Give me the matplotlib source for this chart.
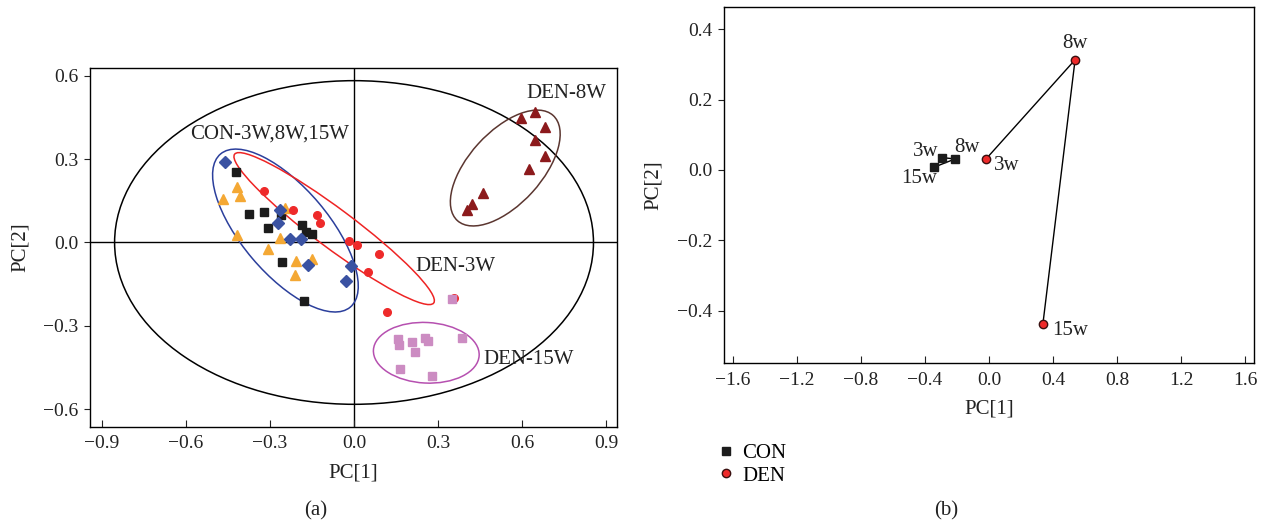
import matplotlib
matplotlib.use("Agg")
import matplotlib.pyplot as plt
from matplotlib.patches import Ellipse
from matplotlib.lines import Line2D
from matplotlib.ticker import FuncFormatter

plt.rcParams['font.family'] = ['Liberation Serif', 'DejaVu Serif']
plt.rcParams['font.size'] = 14
plt.rcParams['axes.linewidth'] = 1.0

# panel (a) scores
con3_x = [-0.460, -0.264, -0.270, -0.227, -0.190, -0.163, -0.011, -0.030]
con3_y = [0.291, 0.116, 0.071, 0.011, 0.014, -0.081, -0.086, -0.139]
con8_x = [-0.420, -0.374, -0.320, -0.306, -0.262, -0.185, -0.171, -0.151, -0.256, -0.178]
con8_y = [0.253, 0.104, 0.110, 0.053, 0.098, 0.064, 0.037, 0.032, -0.072, -0.209]
con15_x = [-0.417, -0.468, -0.408, -0.419, -0.246, -0.263, -0.306, -0.207, -0.149, -0.211]
con15_y = [0.200, 0.155, 0.167, 0.026, 0.124, 0.017, -0.022, -0.065, -0.061, -0.117]
den3_x = [-0.321, -0.219, -0.133, -0.121, -0.018, 0.010, 0.090, 0.051, 0.117, 0.358]
den3_y = [0.184, 0.118, 0.098, 0.071, 0.007, -0.010, -0.043, -0.105, -0.252, -0.201]
den8_x = [0.595, 0.646, 0.682, 0.646, 0.682, 0.626, 0.462, 0.423, 0.402]
den8_y = [0.447, 0.468, 0.415, 0.369, 0.313, 0.265, 0.179, 0.140, 0.116]
den15_x = [0.349, 0.158, 0.162, 0.208, 0.255, 0.265, 0.387, 0.219, 0.165, 0.280]
den15_y = [-0.204, -0.348, -0.368, -0.360, -0.344, -0.356, -0.344, -0.394, -0.455, -0.481]

# confidence ellipses: (cx, cy, width, height, angle)
ell_all = (0.0, 0.0, 1.71, 1.165, 0)
ell_con = (-0.245, 0.043, 0.72, 0.31, -50)
ell_den3 = (-0.071, 0.050, 0.89, 0.14, -37)
ell_den8 = (0.540, 0.268, 0.51, 0.26, 48)
ell_den15 = (0.258, -0.397, 0.378, 0.218, -3)

# panel (b) group trajectories
weeks = ['3w', '8w', '15w']
con_x = [-0.295, -0.212, -0.345]
con_y = [0.035, 0.031, 0.007]
den_x = [-0.020, 0.538, 0.337]
den_y = [0.030, 0.313, -0.438]

TXT = '#222222'
fmt = FuncFormatter(lambda v, p: ('%.1f' % v).replace('-', '\u2212'))

fig = plt.figure(figsize=(12.63, 5.25), dpi=100)
ax = fig.add_axes([0.0710, 0.1873, 0.4173, 0.6826])
ax2 = fig.add_axes([0.5729, 0.308, 0.4202, 0.678])

# ---- panel (a)
ax.axhline(0, color='black', lw=1.0, zorder=1)
ax.axvline(0, color='black', lw=1.0, zorder=1)
for e, c in [(ell_all, 'black'), (ell_con, '#2b3f9c'), (ell_den3, '#ee2424'),
             (ell_den8, '#5b3630'), (ell_den15, '#b650b0')]:
    ax.add_patch(Ellipse((e[0], e[1]), e[2], e[3], angle=e[4], fill=False,
                         edgecolor=c, lw=1.1, zorder=2))

ax.plot(con8_x, con8_y, 's', color='#1c1c1c', ms=6, zorder=3)
ax.plot(con15_x, con15_y, '^', color='#f4a834', ms=7, zorder=3)
ax.plot(den3_x, den3_y, 'o', color='#ee2a2a', ms=5.5, zorder=3)
ax.plot(con3_x, con3_y, 'D', color='#3a52a2', ms=6, zorder=4)
ax.plot(den8_x, den8_y, '^', color='#8c1a1c', ms=7, zorder=3)
ax.plot(den15_x, den15_y, 's', color='#cc8cc2', ms=6, zorder=3)

ax.text(-0.586, 0.39, 'CON-3W,8W,15W', va='center', ha='left', fontsize=15, color=TXT)
ax.text(0.617, 0.537, 'DEN-8W', va='center', ha='left', fontsize=15, color=TXT)
ax.text(0.218, -0.087, 'DEN-3W', va='center', ha='left', fontsize=15, color=TXT)
ax.text(0.462, -0.422, 'DEN-15W', va='center', ha='left', fontsize=15, color=TXT)

ax.set_xlim(-0.944, 0.938)
ax.set_ylim(-0.663, 0.627)
ax.set_xticks([-0.9, -0.6, -0.3, 0.0, 0.3, 0.6, 0.9])
ax.set_yticks([-0.6, -0.3, 0.0, 0.3, 0.6])
ax.xaxis.set_major_formatter(fmt)
ax.yaxis.set_major_formatter(fmt)
ax.tick_params(axis='x', direction='in', length=5, pad=6, colors=TXT)
ax.tick_params(axis='y', direction='out', length=4, pad=4, colors=TXT)
ax.set_xlabel('PC[1]', fontsize=15, labelpad=8, color=TXT)
ax.set_ylabel('PC[2]', fontsize=15, labelpad=10, color=TXT)

# ---- panel (b)
ax2.plot(con_x, con_y, '-', color='black', lw=1.0, marker='s', ms=6,
         mfc='#1c1c1c', mec='#1c1c1c')
ax2.plot(den_x, den_y, '-', color='black', lw=1.0, marker='o', ms=6,
         mfc='#ee2a2a', mec='#3a1010')

con_off = [(-16, 6), (12, 11), (-15, -11)]
den_off = [(21, -6), (0, 16), (27, -7)]
for i, w in enumerate(weeks):
    ax2.annotate(w, (con_x[i], con_y[i]), xytext=con_off[i], textcoords='offset pixels',
                 ha='center', va='center', fontsize=15, color=TXT)
    ax2.annotate(w, (den_x[i], den_y[i]), xytext=den_off[i], textcoords='offset pixels',
                 ha='center', va='center', fontsize=15, color=TXT)

ax2.set_xlim(-1.657, 1.657)
ax2.set_ylim(-0.55, 0.462)
ax2.set_xticks([-1.6, -1.2, -0.8, -0.4, 0.0, 0.4, 0.8, 1.2, 1.6])
ax2.set_yticks([-0.4, -0.2, 0.0, 0.2, 0.4])
ax2.xaxis.set_major_formatter(fmt)
ax2.yaxis.set_major_formatter(fmt)
ax2.tick_params(axis='x', direction='in', length=5, pad=6, colors=TXT)
ax2.tick_params(axis='y', direction='out', length=4, pad=4, colors=TXT)
ax2.set_xlabel('PC[1]', fontsize=15, labelpad=8, color=TXT)
ax2.set_ylabel('PC[2]', fontsize=15, labelpad=10, color=TXT)

handles = [Line2D([], [], ls='none', marker='s', ms=6, mfc='#1c1c1c', mec='#1c1c1c'),
           Line2D([], [], ls='none', marker='o', ms=6, mfc='#ee2a2a', mec='#3a1010')]
ax2.legend(handles, ['CON', 'DEN'], loc='upper left', bbox_to_anchor=(-0.008, -0.225),
           frameon=False, handlelength=0.6, handletextpad=0.5, labelspacing=0.15,
           borderaxespad=0, borderpad=0, fontsize=15)

fig.text(316 / 1263, 1 - 511 / 525, '(a)', ha='center', va='center', fontsize=15, color=TXT)
fig.text(946 / 1263, 1 - 511 / 525, '(b)', ha='center', va='center', fontsize=15, color=TXT)

fig.savefig('out.png', dpi=100)
